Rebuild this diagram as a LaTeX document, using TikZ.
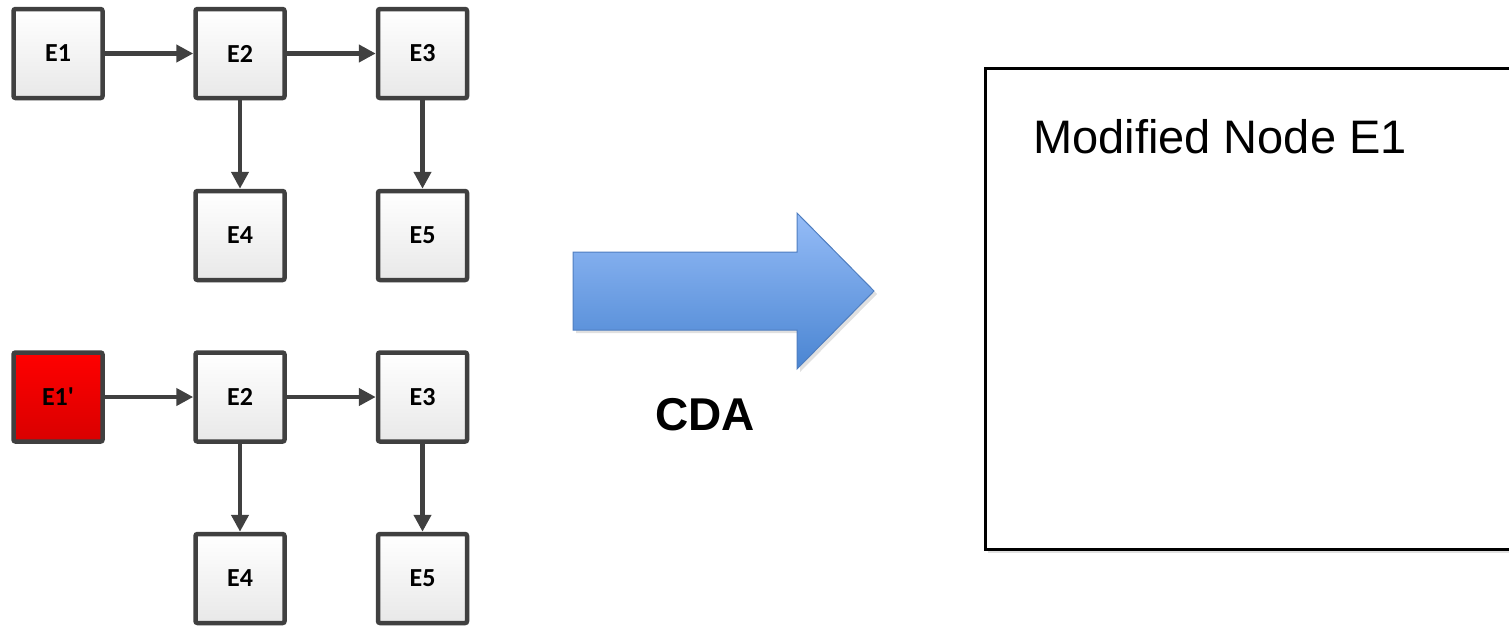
\documentclass[tikz,border=0pt]{standalone}
\usepackage{fontspec}
\setmainfont{Liberation Sans}
\newfontfamily\boxfont{Carlito}
\usetikzlibrary{arrows.meta,shadows}
\definecolor{boxline}{HTML}{404040}
\definecolor{arrowtop}{HTML}{95BCF7}
\definecolor{arrowbot}{HTML}{4A85D2}
\definecolor{arrowline}{HTML}{4F7EC0}
\tikzset{
  ebox/.style={draw=boxline, line width=4.5pt, rounded corners=2pt,
    minimum width=89pt, minimum height=89pt, top color=white, bottom color=gray!18,
    font=\boxfont\bfseries\fontsize{26}{30}\selectfont, inner sep=0pt,
    drop shadow={shadow xshift=2pt, shadow yshift=-2pt, fill=black, opacity=0.15}},
  redbox/.style={ebox, top color=red, bottom color=red!85!black},
  conn/.style={draw=boxline, line width=4.5pt, -{Triangle[length=17pt,width=17pt]}},
}
\begin{document}
\begin{tikzpicture}[x=1pt,y=-1pt]
\useasboundingbox (0,0) rectangle (1509,625);
\clip (0,0) rectangle (1509,625);
% top graph
\node[ebox] (a1) at (58,53.5) {E1};
\node[ebox] (a2) at (240,53.5) {E2};
\node[ebox] (a3) at (422.5,53.5) {E3};
\node[ebox] (a4) at (240,235.5) {E4};
\node[ebox] (a5) at (422.5,235.5) {E5};
\draw[conn] (a1) -- (a2);
\draw[conn] (a2) -- (a3);
\draw[conn] (a2) -- (a4);
\draw[conn] (a3) -- (a5);
% bottom graph
\node[redbox] (b1) at (58,397) {E1'};
\node[ebox] (b2) at (240,397) {E2};
\node[ebox] (b3) at (422.5,397) {E3};
\node[ebox] (b4) at (240,578.5) {E4};
\node[ebox] (b5) at (422.5,578.5) {E5};
\draw[conn] (b1) -- (b2);
\draw[conn] (b2) -- (b3);
\draw[conn] (b2) -- (b4);
\draw[conn] (b3) -- (b5);
% block arrow
\fill[black, opacity=0.12] (576,255) -- (800,255) -- (800,216) -- (877,294) -- (800,372) -- (800,333) -- (576,333) -- cycle;
\draw[arrowline, line width=1pt, top color=arrowtop, bottom color=arrowbot]
  (573,252) -- (797,252) -- (797,213) -- (874,291) -- (797,369) -- (797,330) -- (573,330) -- cycle;
\node[font=\bfseries\fontsize{46}{50}\selectfont, anchor=base] (cda) at (705,430) {CDA};
% result box
\fill[black, opacity=0.12] (988,72) rectangle (1520,553);
\draw[black, line width=3pt, fill=white] (985.5,68.5) rectangle (1520,549);
\node[font=\fontsize{47}{52}\selectfont, anchor=base west, inner sep=0pt] (mod) at (1033,153) {Modified Node E1};
\end{tikzpicture}
\end{document}
